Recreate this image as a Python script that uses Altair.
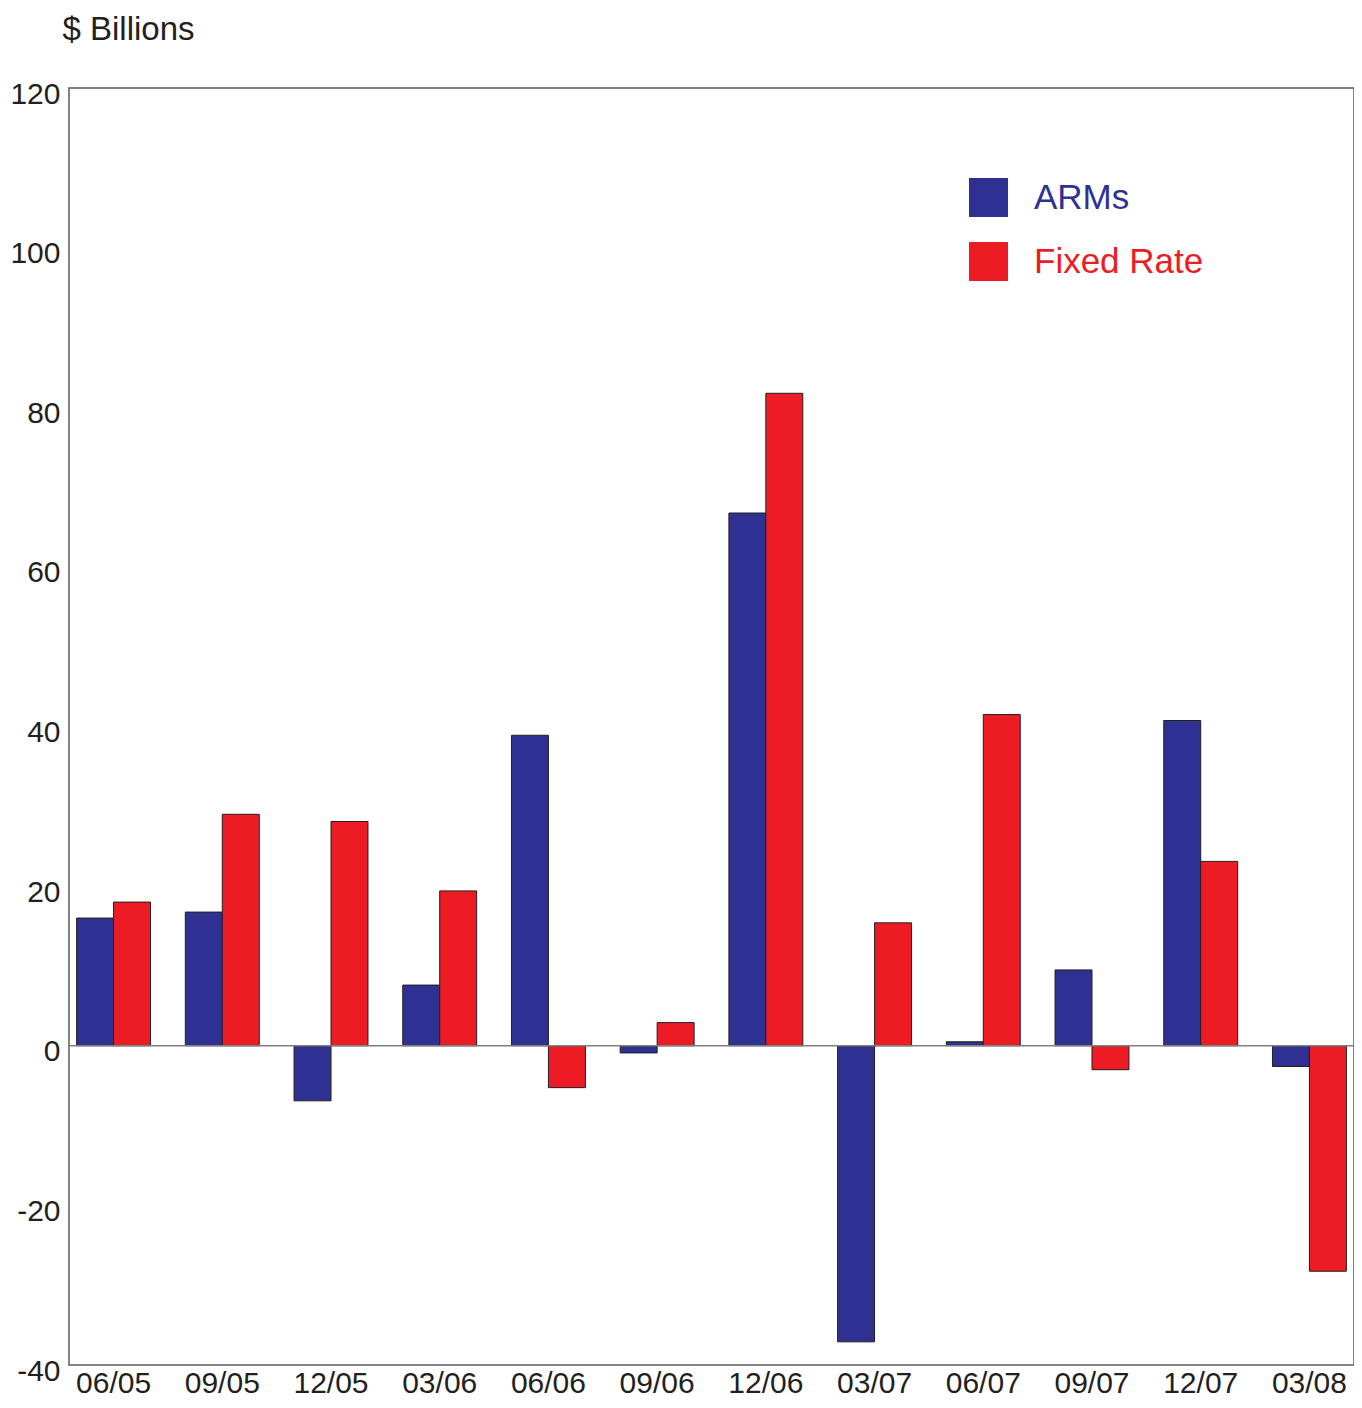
import altair as alt
import pandas as pd

periods = ["06/05", "09/05", "12/05", "03/06", "06/06", "09/06",
           "12/06", "03/07", "06/07", "09/07", "12/07", "03/08"]
arms = [16.0, 16.75, -6.9, 7.6, 38.9, -0.9, 66.75, -37.1, 0.5, 9.5, 40.75, -2.6]
fixed = [18.0, 29.0, 28.1, 19.4, -5.25, 2.9, 81.75, 15.4, 41.5, -3.0, 23.1, -28.25]
series = ["ARMs", "Fixed Rate"]
colors = ["#2E3192", "#ED1C24"]
y_ticks = [-40, -20, 0, 20, 40, 60, 80, 100, 120]

rows = []
for p, a, f in zip(periods, arms, fixed):
    rows.append({"period": p, "series": series[0], "value": a})
    rows.append({"period": p, "series": series[1], "value": f})
df = pd.DataFrame(rows)

FONT = "Liberation Sans"
TXT = "#231F20"

bars = alt.Chart(df).mark_bar(stroke="#231F20", strokeWidth=1).encode(
    x=alt.X("period:N", sort=periods,
            scale=alt.Scale(paddingInner=0.32, paddingOuter=0.07),
            axis=alt.Axis(title=None, labelAngle=0, ticks=False, domain=False,
                          labelFontSize=30, labelFont=FONT, labelColor=TXT,
                          labelPadding=3)),
    xOffset=alt.XOffset("series:N", sort=series,
                        scale=alt.Scale(paddingInner=0, paddingOuter=0)),
    y=alt.Y("value:Q",
            scale=alt.Scale(domain=[-40, 120], nice=False, zero=False),
            axis=alt.Axis(values=y_ticks, grid=False, ticks=False, domain=False,
                          labelFontSize=30, labelFont=FONT, labelColor=TXT,
                          labelPadding=9, labelOffset=6,
                          labelExpr="toString(datum.value)",
                          title="$ Billions", titleAngle=0, titleAlign="left",
                          titleBaseline="alphabetic", titleX=-7, titleY=-49,
                          titleFontSize=33, titleFontWeight="normal",
                          titleFont=FONT, titleColor=TXT)),
    color=alt.Color("series:N", sort=series,
                    scale=alt.Scale(domain=series, range=colors),
                    legend=alt.Legend(title=None, orient="none",
                                      legendX=900, legendY=90,
                                      symbolType="square", symbolSize=1521,
                                      symbolStrokeWidth=0, symbolOpacity=1,
                                      labelFontSize=35, labelFont=FONT,
                                      labelLimit=400,
                                      labelOffset=26, rowPadding=25,
                                      labelColor={"expr": "datum.label == 'ARMs' ? '#2E3192' : '#ED1C24'"})),
)

zero = alt.Chart(pd.DataFrame({"z": [0]})).mark_rule(color="#808080", strokeWidth=1.5).encode(
    y=alt.Y("z:Q")
)

chart = alt.layer(bars, zero).properties(
    width=1285, height=1277,
    autosize=alt.AutoSizeParams(type="none"),
    padding={"left": 61, "top": 80, "right": 0, "bottom": 35},
    view=alt.ViewBackground(stroke="#58595B", strokeWidth=1.5),
).configure_view(stroke="#58595B", strokeWidth=1.5).configure(background="white")

chart.save("out.html", embed_options={"renderer": "svg", "actions": False})
